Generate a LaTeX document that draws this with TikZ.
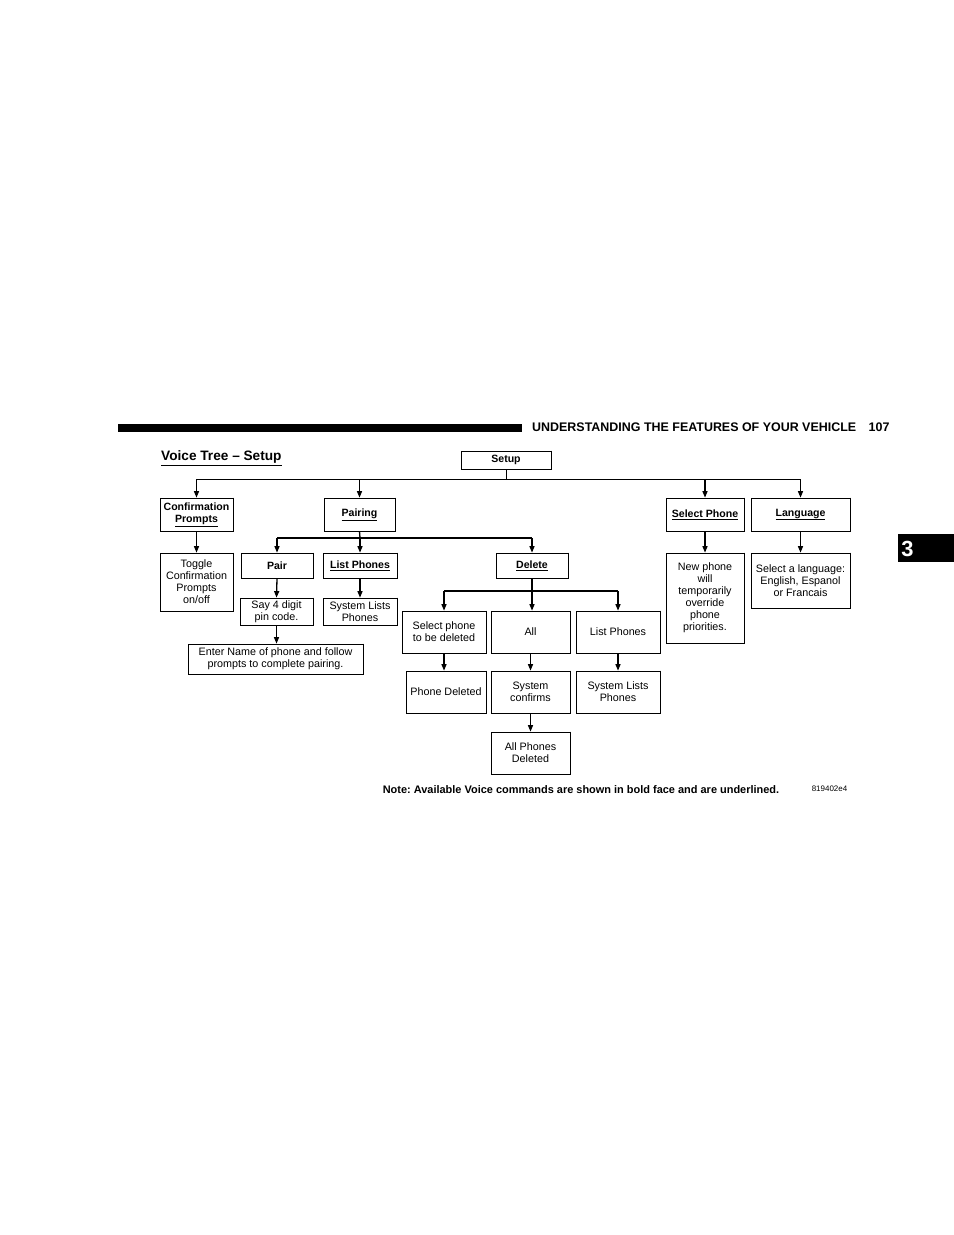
\documentclass[tikz,border=0pt]{standalone}
\usepackage{fontspec}
\setmainfont{Liberation Sans}
\usepackage{tikz}
\usetikzlibrary{arrows.meta}
\usetikzlibrary{calc}

\tikzset{
  vbox/.style={draw, line width=0.7bp, align=center, inner sep=1bp, font=\fontsize{10.8}{12}\selectfont},
  cmd/.style={vbox, font=\fontsize{10.6}{12.5}\selectfont\bfseries},
  tip/.style={-{Triangle[length=6.5bp,width=5bp]}, line width=1.3bp},
  bus/.style={line width=1.3bp},
}

\begin{document}
\frenchspacing
\begin{tikzpicture}[x=1bp, y=-1bp]
   \useasboundingbox (0,0) rectangle (954,1235);
   % page header and tab
   \fill [black] (118,424) rectangle (522,432);
   \node [anchor=west, inner sep=0pt, font=\fontsize{12.5}{14}\selectfont\bfseries] (head) at (532,427.5) {UNDERSTANDING THE FEATURES OF YOUR VEHICLE\hspace{1em}107};
   \fill [black] (898,534) rectangle (954,562);
   \node [white, font=\fontsize{22}{24}\selectfont\bfseries, inner sep=0pt] (tab) at (907.5,548.5) {3};
   \node [anchor=west, inner sep=0pt, font=\fontsize{13.7}{15}\selectfont\bfseries] (title) at (161,458) {\underline{Voice Tree -- Setup}};

   % first row
   \node [cmd, minimum width=90bp, minimum height=18bp] (setup) at (506,460) {Setup};
   \node [cmd, minimum width=73bp, minimum height=33bp] (conf) at (196.5,514.5) {Confirmation\\\underline{Prompts}};
   \node [cmd, minimum width=71bp, minimum height=33bp] (pairing) at (359.5,514.5) {\underline{Pairing}};
   \node [cmd, minimum width=78bp, minimum height=33bp] (selphone) at (705,514.5) {\underline{Select Phone}};
   \node [cmd, minimum width=99bp, minimum height=33bp] (lang) at (800.5,514.5) {\underline{Language}};

   % second row
   \node [vbox, minimum width=73bp, minimum height=58bp] (toggle) at (196.5,582) {Toggle\\Confirmation\\Prompts\\on/off};
   \node [cmd, minimum width=72bp, minimum height=25bp] (pair) at (277,565.5) {Pair};
   \node [cmd, minimum width=74bp, minimum height=25bp] (listph) at (360,565.5) {\underline{List Phones}};
   \node [cmd, minimum width=72bp, minimum height=25bp] (delete) at (532,565.5) {\underline{Delete}};
   \node [vbox, minimum width=78bp, minimum height=90bp] (newph) at (705,598) {New phone\\will\\temporarily\\override\\phone\\priorities.};
   \node [vbox, minimum width=99bp, minimum height=55bp] (sellang) at (800.5,580.5) {Select a language:\\English, Espanol\\or Francais};

   % pairing results
   \node [vbox, minimum width=73bp, minimum height=27bp] (pin) at (276.5,611.5) {Say 4 digit\\pin code.};
   \node [vbox, minimum width=74bp, minimum height=27bp] (syslist) at (360,611.5) {System Lists\\Phones};
   \node [vbox, minimum width=175bp, minimum height=30bp] (entername) at (275.5,659) {Enter Name of phone and follow\\prompts to complete pairing.};

   % delete branch
   \node [vbox, minimum width=84bp, minimum height=42bp] (selph) at (444,632) {Select phone\\to be deleted};
   \node [vbox, minimum width=79bp, minimum height=42bp] (all) at (530.5,632) {All};
   \node [vbox, minimum width=84bp, minimum height=42bp] (listph2) at (618,632) {List Phones};
   \node [vbox, minimum width=80bp, minimum height=42bp] (deleted) at (446,692) {Phone Deleted};
   \node [vbox, minimum width=79bp, minimum height=42bp] (confirms) at (530.5,692) {System\\confirms};
   \node [vbox, minimum width=84bp, minimum height=42bp] (syslist2) at (618,692) {System Lists\\Phones};
   \node [vbox, minimum width=79bp, minimum height=42bp] (allgone) at (530.5,753) {All Phones\\Deleted};

   % shadow edges
   \foreach \n in {setup,conf,pairing,selphone,lang,toggle,pair,listph,delete,newph,sellang,pin,syslist,entername,selph,all,listph2,deleted,confirms,syslist2,allgone}
      \draw [line width=1.6bp] (\n.north east) -- (\n.south east) -- (\n.south west);

   % buses
   \coordinate (sbus) at (506,479);
   \coordinate (pbus) at (360,538);
   \coordinate (dbus) at (532,591);
   \draw [line width=1bp] (setup.south) -- (sbus);
   \draw [line width=1bp] (conf.north |- sbus) -- (lang.north |- sbus);
   \draw [bus] (pairing.south) -- (pbus);
   \draw [bus] (pair.north |- pbus) -- (delete.north |- pbus);
   \draw [bus] (delete.south) -- (dbus);
   \draw [bus] (selph.north |- dbus) -- (listph2.north |- dbus);

   % arrows
   \foreach \n in {conf,pairing,selphone,lang}
      \draw [tip] (\n.north |- sbus) -- (\n.north);
   \foreach \n in {pair,listph,delete}
      \draw [tip] (\n.north |- pbus) -- (\n.north);
   \foreach \n in {selph,listph2}
      \draw [tip] (\n.north |- dbus) -- (\n.north);
   \draw [tip] (dbus) -- (dbus |- all.north);
   \draw [tip] (conf.south) -- (toggle.north);
   \draw [tip] (selphone.south) -- (newph.north);
   \draw [tip] (lang.south) -- (sellang.north);
   \draw [tip] (pair.south) -- (pin.north);
   \draw [tip] (listph.south) -- (syslist.north);
   \draw [tip] (pin.south) -- (entername.north -| pin.south);
   \draw [tip] (selph.south) -- (selph.south |- deleted.north);
   \draw [tip] (all.south) -- (confirms.north);
   \draw [tip] (listph2.south) -- (syslist2.north);
   \draw [tip] (confirms.south) -- (allgone.north);

   % note
   \node [font=\fontsize{11}{12}\selectfont\bfseries, inner sep=0pt] (note) at (581,790) {Note: Available Voice commands are shown in bold face and are underlined.};
   \node [font=\fontsize{8}{9}\selectfont, inner sep=0pt] (code) at (829.5,789) {819402e4};
\end{tikzpicture}
\end{document}
